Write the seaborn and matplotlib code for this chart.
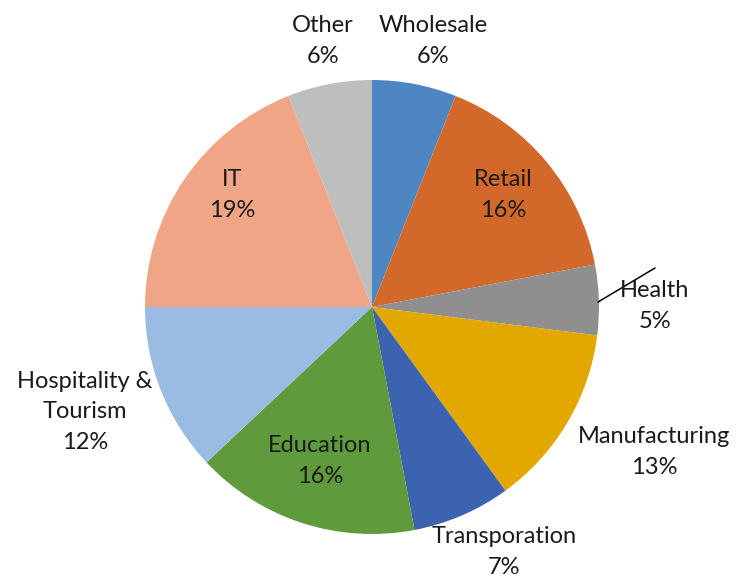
import matplotlib
matplotlib.use("Agg")
import matplotlib.pyplot as plt
import seaborn as sns

sns.set_theme(style="white")
plt.rcParams["font.family"] = ["Lato", "DejaVu Sans"]

# Share of firms by industry sector (percent), clockwise from 12 o'clock
sectors = ["Wholesale", "Retail", "Health", "Manufacturing", "Transporation",
           "Education", "Hospitality &\nTourism", "IT", "Other"]
shares = [6, 16, 5, 13, 7, 16, 12, 19, 6]
colors = ["#4E86C2", "#D2692A", "#8F8F8F", "#E2A800", "#3C63B0",
          "#5F9A3D", "#9ABCE2", "#F0A686", "#BEBEBE"]

# label anchor points in figure pixels (x, y measured from top-left)
label_pos = [(433, 41), (503, 195), (655, 306), (654, 452), (504, 552),
             (320, 461), (85, 412), (232, 195), (323, 41)]

W, H = 737, 580
fig = plt.figure(figsize=(W / 100, H / 100), dpi=100)
ax = fig.add_axes([0, 0, 1, 1])

palette = sns.color_palette(colors)
ax.pie(shares, colors=palette, startangle=90, counterclock=False,
       center=(372, H - 307), radius=227, frame=True,
       wedgeprops=dict(linewidth=0))
ax.set_xlim(0, W)
ax.set_ylim(0, H)
ax.set_aspect("equal")
ax.axis("off")

for name, val, (x, y) in zip(sectors, shares, label_pos):
    ax.text(x, H - y, f"{name}\n{val}%", ha="center", va="center",
            fontsize=17, color="#1a1a1a", linespacing=1.55)

# leader line for the narrow Health slice
ax.plot([598, 655], [H - 302, H - 268], color="black", lw=1.1)

fig.savefig("out.png", dpi=100)
